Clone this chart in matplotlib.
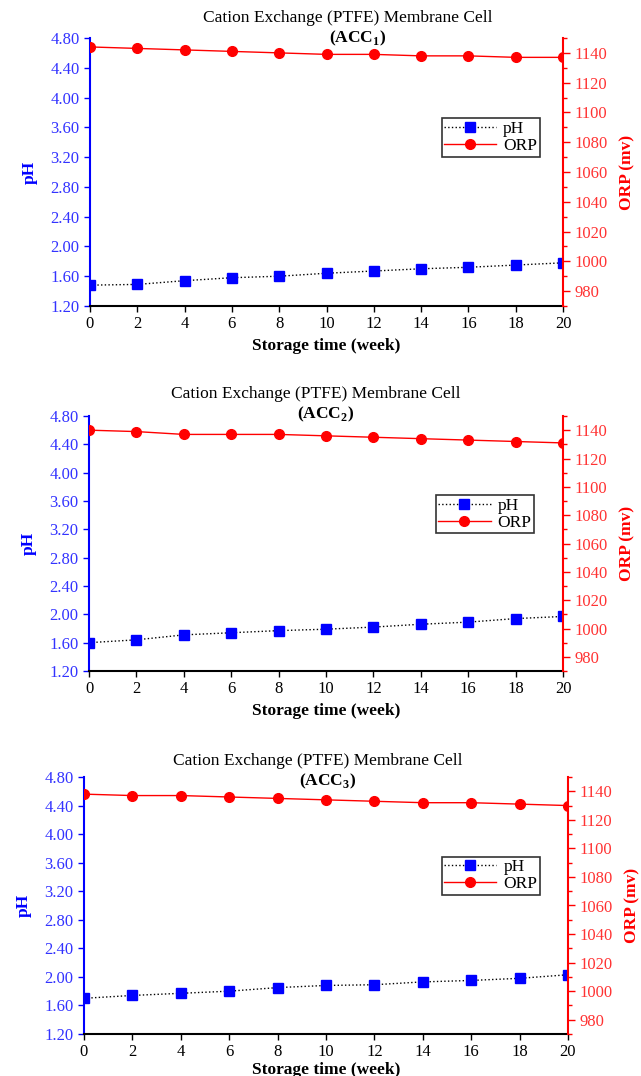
import matplotlib
matplotlib.use("Agg")
import matplotlib.pyplot as plt
from matplotlib.ticker import MultipleLocator, FormatStrFormatter

plt.rcParams['font.family'] = ['Liberation Serif', 'DejaVu Serif']
plt.rcParams['mathtext.fontset'] = 'custom'
plt.rcParams['mathtext.rm'] = 'Liberation Serif'
plt.rcParams['mathtext.bf'] = 'Liberation Serif:bold'

# data
weeks = [0, 2, 4, 6, 8, 10, 12, 14, 16, 18, 20]
ph_acc1 = [1.48, 1.49, 1.54, 1.58, 1.60, 1.64, 1.67, 1.70, 1.72, 1.75, 1.78]
orp_acc1 = [1144, 1143, 1142, 1141, 1140, 1139, 1139, 1138, 1138, 1137, 1137]
ph_acc2 = [1.60, 1.64, 1.71, 1.74, 1.77, 1.79, 1.82, 1.86, 1.89, 1.94, 1.97]
orp_acc2 = [1140, 1139, 1137, 1137, 1137, 1136, 1135, 1134, 1133, 1132, 1131]
ph_acc3 = [1.70, 1.74, 1.77, 1.80, 1.85, 1.88, 1.89, 1.93, 1.95, 1.98, 2.03]
orp_acc3 = [1138, 1137, 1137, 1136, 1135, 1134, 1133, 1132, 1132, 1131, 1130]
cell_names = ['1', '2', '3']

W, H = 641, 1076
fig = plt.figure(figsize=(W / 100, H / 100), dpi=100)

# panel boxes in pixels: left, right, top, bottom, title center x, title y, sub y, legend anchor, xlabel pad
panels = [
    (90, 563, 38, 306, 348, 18, 38, (0.951, 0.70), 4),
    (89, 563, 416, 671, 316, 394, 414, (0.939, 0.69), 4),
    (84, 568, 777, 1034, 318, 761, 781, (0.942, 0.69), 1),
]
ph_all = [ph_acc1, ph_acc2, ph_acc3]
orp_all = [orp_acc1, orp_acc2, orp_acc3]

for i, (l, r, t, b, tx, ty, sy, leg, xpad) in enumerate(panels):
    ax = fig.add_axes([l / W, 1 - b / H, (r - l) / W, (b - t) / H])
    ax2 = ax.twinx()

    p1, = ax.plot(weeks, ph_all[i], color='black', linestyle=':', linewidth=1.0,
                  marker='s', markersize=7.5, markerfacecolor='blue',
                  markeredgecolor='blue', label='pH')
    p2, = ax2.plot(weeks, orp_all[i], color='red', linestyle='-', linewidth=1.0,
                   marker='o', markersize=7, markerfacecolor='red',
                   markeredgecolor='red', label='ORP')

    ax.set_xlim(0, 20)
    ax.set_ylim(1.2, 4.8)
    ax2.set_ylim(970, 1150)
    ax.xaxis.set_major_locator(MultipleLocator(2))
    ax.yaxis.set_major_locator(MultipleLocator(0.4))
    ax.yaxis.set_major_formatter(FormatStrFormatter('%.2f'))
    ax2.yaxis.set_major_locator(MultipleLocator(20))
    ax2.yaxis.set_minor_locator(MultipleLocator(10))

    for a in (ax, ax2):
        a.spines['top'].set_visible(False)
    ax.spines['right'].set_visible(False)
    ax2.spines['left'].set_visible(False)
    ax2.spines['bottom'].set_visible(False)
    ax.spines['left'].set_color('blue')
    ax.spines['left'].set_linewidth(1.5)
    ax.spines['bottom'].set_linewidth(1.5)
    ax2.spines['right'].set_color('red')
    ax2.spines['right'].set_linewidth(1.5)

    ax.tick_params(axis='x', direction='out', length=4, width=1, labelsize=12, colors='black')
    ax.tick_params(axis='y', direction='out', length=4, width=1, labelsize=12,
                   colors='blue', labelcolor='#3333ff')
    ax2.tick_params(axis='y', which='major', direction='out', length=5, width=1,
                    labelsize=12, colors='red', labelcolor='#ff3333')
    ax2.tick_params(axis='y', which='minor', direction='out', length=3, width=1, colors='red')

    ax.set_xlabel('Storage time (week)', fontsize=12.5, fontweight='bold', labelpad=xpad)
    ax.set_ylabel('pH', fontsize=12.5, fontweight='bold', color='blue', labelpad=9)
    ax2.set_ylabel('ORP (mv)', fontsize=12.5, fontweight='bold', color='red', labelpad=8)

    fig.text(tx / W, 1 - ty / H, 'Cation Exchange (PTFE) Membrane Cell',
             ha='center', va='center', fontsize=12.5)
    fig.text(tx / W + 10 / W, 1 - sy / H, r'(ACC$_\mathbf{' + cell_names[i] + '}$)',
             ha='center', va='center', fontsize=12.5, fontweight='bold')

    lg = ax2.legend(handles=[p1, p2], loc='upper right', bbox_to_anchor=leg,
                    fontsize=12.5, frameon=True, fancybox=False, edgecolor='black',
                    handlelength=3.0, borderpad=0.15, labelspacing=0.05,
                    handletextpad=0.4, borderaxespad=0)
    lg.get_frame().set_linewidth(1.2)

fig.savefig('out.png', dpi=100)
